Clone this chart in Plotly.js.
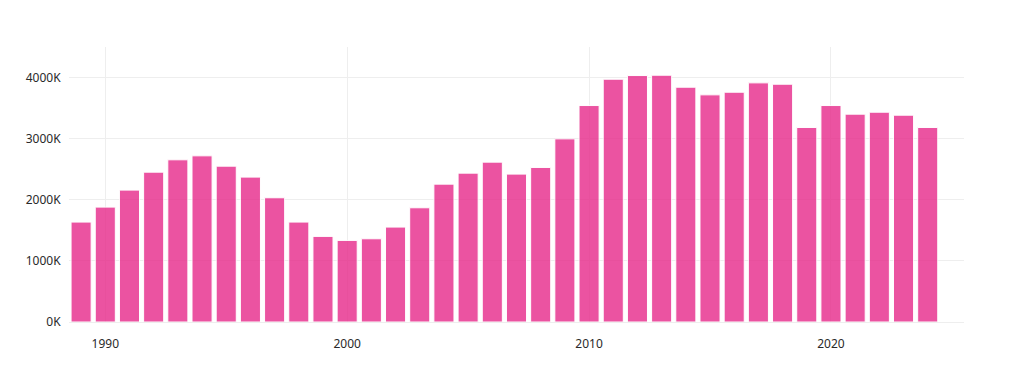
<!DOCTYPE html>
<html>
<head>
<meta charset="utf-8">
<script src="https://cdn.plot.ly/plotly-3.0.1.min.js"></script>
<style>html,body{margin:0;padding:0;background:#fff;}#chart{width:1024px;height:370px;}</style>
</head>
<body>
<div id="chart"></div>
<script>
const years = [1989,1990,1991,1992,1993,1994,1995,1996,1997,1998,1999,2000,2001,2002,2003,2004,2005,2006,2007,2008,2009,2010,2011,2012,2013,2014,2015,2016,2017,2018,2019,2020,2021,2022,2023,2024];
const valuesK = [1635,1880,2158,2452,2654,2719,2550,2371,2033,1635,1401,1335,1362,1553,1869,2256,2436,2616,2420,2529,2997,3542,3973,4033,4038,3842,3717,3760,3913,3891,3183,3542,3401,3433,3384,3183];
const yTickVals = [0, 1000, 2000, 3000, 4000];
const yTickText = ['0K', '1000K', '2000K', '3000K', '4000K'];
const xTickVals = [1990, 2000, 2010, 2020];

const trace = {
  type: 'bar',
  x: years,
  y: valuesK,
  marker: {color: '#e7298a', opacity: 0.8, line: {color: '#ffffff', width: 1}},
  hoverinfo: 'x+y'
};
const layout = {
  width: 1024, height: 370,
  margin: {l: 69, r: 60, t: 47, b: 48},
  paper_bgcolor: '#fff', plot_bgcolor: '#fff',
  bargap: 0.17,
  showlegend: false,
  font: {family: 'Noto Sans, Open Sans, sans-serif', size: 12, color: '#2a2a2a'},
  xaxis: {range: [1988.5, 2025.5], tickmode: 'array', tickvals: xTickVals, ticktext: xTickVals.map(String),
          showgrid: true, gridcolor: '#eeeeee', zeroline: false, showline: false,
          ticks: 'outside', ticklen: 11, tickcolor: 'rgba(0,0,0,0)'},
  yaxis: {range: [0, 4500], tickmode: 'array', tickvals: yTickVals, ticktext: yTickText,
          showgrid: true, gridcolor: '#eeeeee', zeroline: true, zerolinecolor: '#eeeeee', showline: false,
          ticks: 'outside', ticklen: 5, tickcolor: 'rgba(0,0,0,0)'}
};
Plotly.newPlot('chart', [trace], layout, {displayModeBar: false, staticPlot: true});
</script>
</body>
</html>
